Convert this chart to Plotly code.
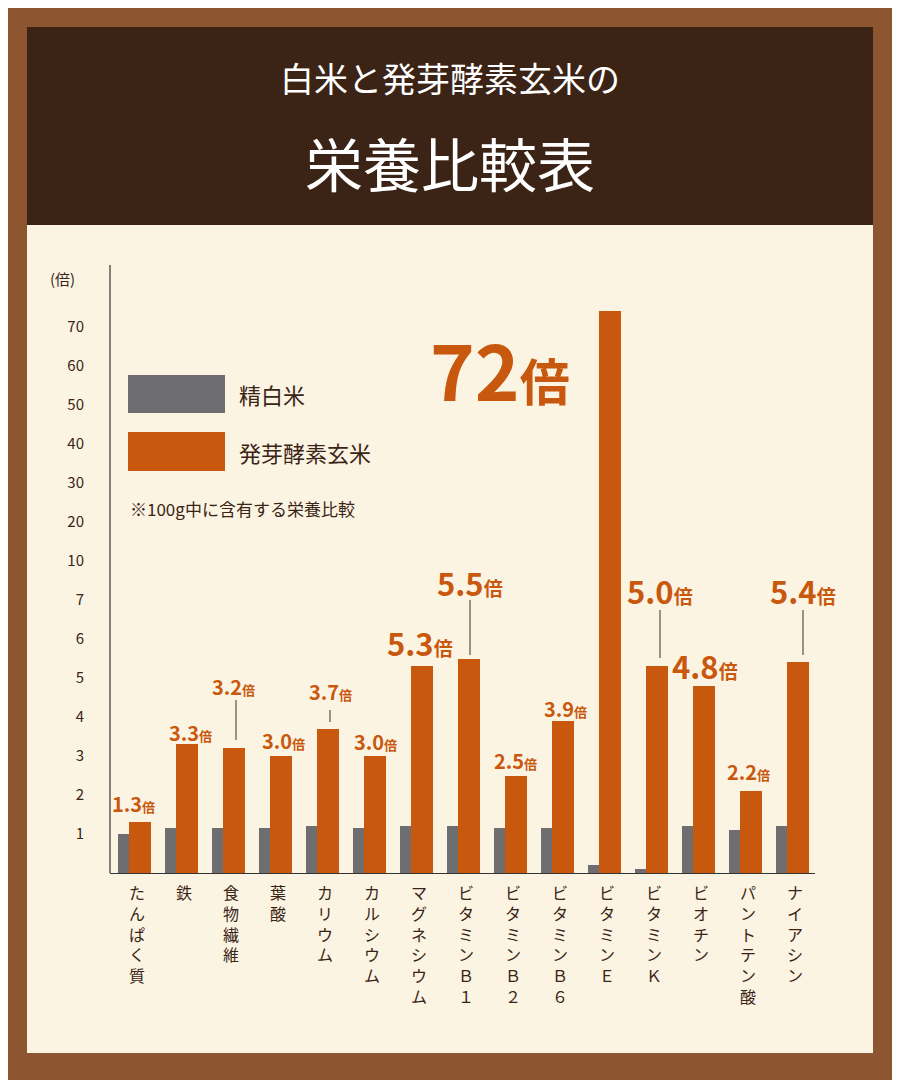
import plotly.graph_objects as go

categories = ["たんぱく質","鉄","食物繊維","葉酸","カリウム","カルシウム","マグネシウム",
              "ビタミンＢ１","ビタミンＢ２","ビタミンＢ６","ビタミンＥ","ビタミンＫ","ビオチン","パントテン酸","ナイアシン"]
white_rice = [1.0,1.15,1.15,1.15,1.2,1.15,1.2,1.2,1.15,1.15,0.2,0.1,1.2,1.1,1.2]
brown_rice = [1.3,3.3,3.2,3.0,3.7,3.0,5.3,5.5,2.5,3.9,74,5.3,4.8,2.1,5.4]
tick_values = [1,2,3,4,5,6,7,10,20,30,40,50,60,70]
ratio_labels = ["1.3","3.3","3.2","3.0","3.7","3.0","5.3","5.5","2.5","3.9","72","5.0","4.8","2.2","5.4"]

def scale(v):
    if v <= 7: return v
    if v <= 10: return 7 + (v-7)/3
    return 8 + (v-10)/10

W, H = 900, 1080
OFF = 8
def px(x): return (x-OFF)/W
def py(y): return 1 - (y-OFF)/H

ORANGE = "#C9580F"; GRAY = "#6E6E70"; DARK = "#3A2416"
FONT = "Noto Sans CJK JP"
n = len(categories)
xs = list(range(n))

fig = go.Figure()
fig.add_bar(x=[i-0.28 for i in xs], y=[scale(v) for v in white_rice], width=0.22,
            marker_color=GRAY, marker_line_width=0, showlegend=False)
fig.add_bar(x=[i+0.06 for i in xs], y=[scale(v) for v in brown_rice], width=0.47,
            marker_color=ORANGE, marker_line_width=0, showlegend=False)

shapes = [
    dict(type="rect", xref="paper", yref="paper", x0=px(27), x1=px(873), y0=py(1053), y1=py(27),
         fillcolor="#FCF4E3", line_width=0, layer="below"),
    dict(type="rect", xref="paper", yref="paper", x0=px(27), x1=px(873), y0=py(225), y1=py(27),
         fillcolor="#3B2416", line_width=0, layer="below"),
    dict(type="line", xref="paper", yref="paper", x0=px(110), x1=px(110), y0=py(873), y1=py(265),
         line=dict(color="#333", width=1.2)),
    dict(type="rect", xref="paper", yref="paper", x0=px(128), x1=px(225), y0=py(413), y1=py(375),
         fillcolor=GRAY, line_width=0),
    dict(type="rect", xref="paper", yref="paper", x0=px(128), x1=px(225), y0=py(471), y1=py(432),
         fillcolor=ORANGE, line_width=0),
]
for xp, y0, y1 in [(236,700,740),(330,710,722),(470,600,655),(660,610,658),(803,610,655)]:
    shapes.append(dict(type="line", xref="paper", yref="paper", x0=px(xp), x1=px(xp),
                       y0=py(y1), y1=py(y0), line=dict(color="#333", width=1)))

ann = []
def A(x, y, text, size, color=DARK, xanchor="center", yanchor="middle"):
    ann.append(dict(x=px(x), y=py(y), xref="paper", yref="paper", text=text, showarrow=False,
                    font=dict(size=size, color=color, family=FONT), xanchor=xanchor, yanchor=yanchor))

A(450, 78, "白米と発芽酵素玄米の", 34, "white")
A(450, 162, "栄養比較表", 58, "white")
A(62, 278, "(倍)", 15)
A(237, 394, "精白米", 22, xanchor="left")
A(237, 452, "発芽酵素玄米", 22, xanchor="left")
A(128, 508, "※100g中に含有する栄養比較", 17, xanchor="left")

label_pos = [(133,803,"s"),(190,732,"s"),(233,686,"s"),(283,740,"s"),(330,691,"s"),(375,741,"s"),
             (420,643,"b"),(470,582,"b"),(515,760,"s"),(565,708,"s"),(500,368,"h"),(660,590,"b"),
             (705,665,"b"),(748,771,"s"),(803,590,"b")]
sizes = {"s":(20,13),"b":(31,19),"h":(76,50)}
for lab, (x, y, k) in zip(ratio_labels, label_pos):
    a, b = sizes[k]
    A(x, y, f"<b><span style='font-size:{a}px'>{lab}</span><span style='font-size:{b}px'>倍</span></b>", a, ORANGE)

for i, c in enumerate(categories):
    ann.append(dict(x=i, y=py(878), xref="x", yref="paper", text="<br>".join(c), showarrow=False,
                    font=dict(size=16, color=DARK, family=FONT), xanchor="center", yanchor="top"))

fig.update_layout(
    width=W, height=H, margin=dict(l=0, r=0, t=0, b=0),
    paper_bgcolor="#8E5630", plot_bgcolor="rgba(0,0,0,0)",
    barmode="overlay", bargap=0, font=dict(family=FONT),
    shapes=shapes, annotations=ann,
    xaxis=dict(domain=[px(110), px(815)], range=[-0.57, n-0.57], showticklabels=False,
               showgrid=False, zeroline=False, showline=True, linecolor="#333", linewidth=1.2),
    yaxis=dict(domain=[py(873), py(265)], range=[0, (873-265)/39], showgrid=False, zeroline=False,
               tickvals=[scale(v) for v in tick_values], ticktext=[str(v) for v in tick_values],
               tickfont=dict(size=15, color=DARK), ticks="", ticklabelstandoff=25),
)
fig.write_html("out.html")
